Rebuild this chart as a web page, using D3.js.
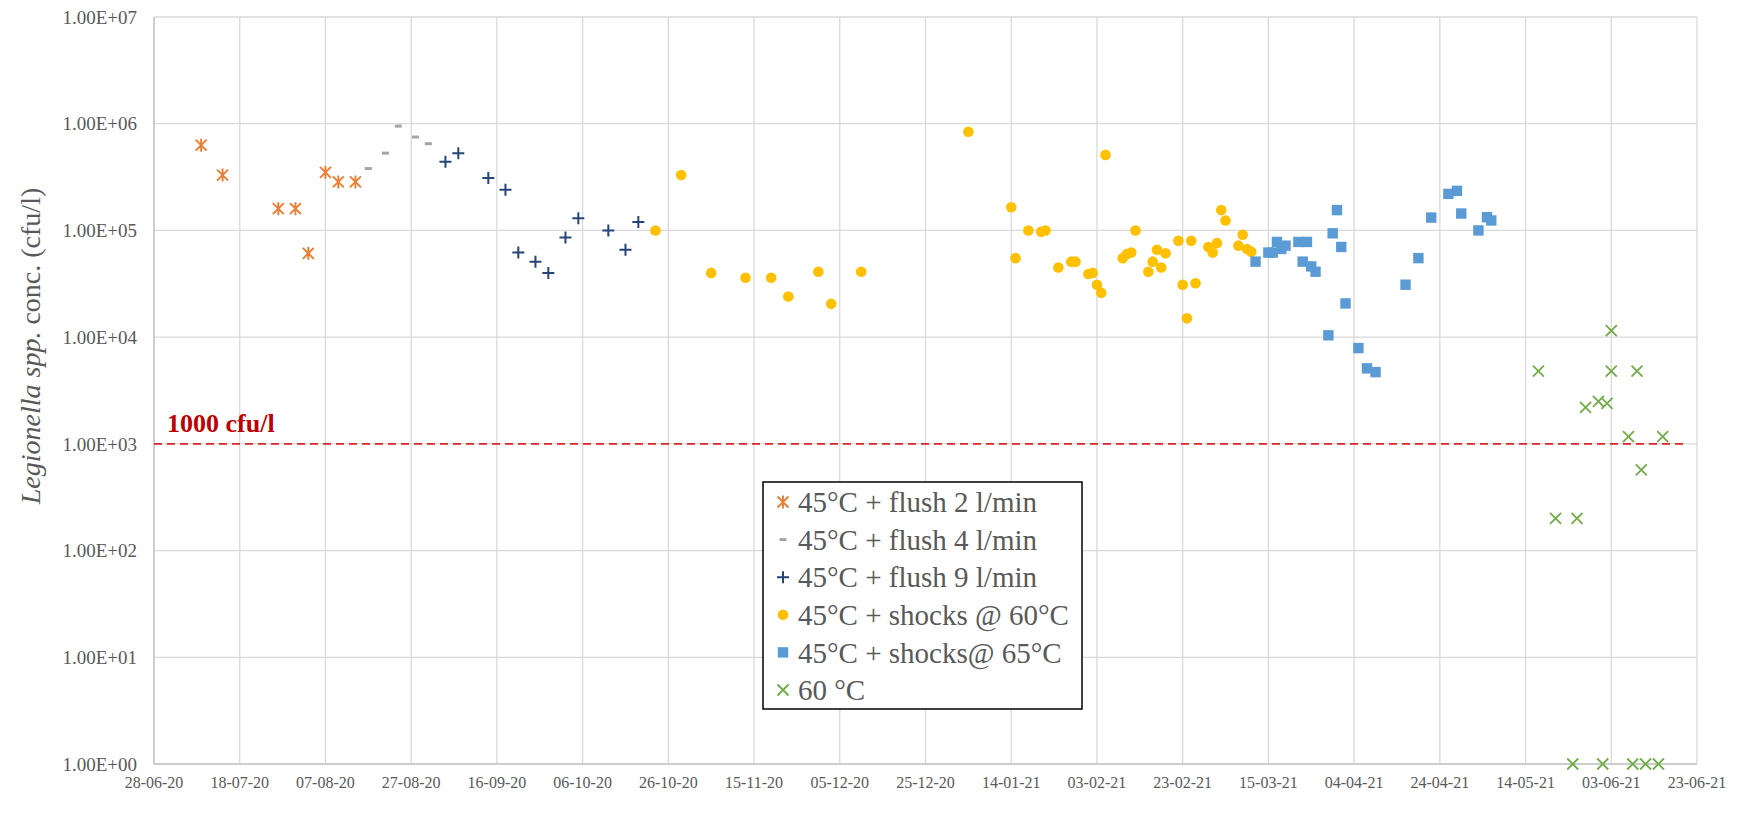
<!DOCTYPE html>
<html>
<head>
<meta charset="utf-8">
<script src="https://cdn.jsdelivr.net/npm/d3@7"></script>
<style>
body{margin:0;background:#fff}
svg{display:block}
text{font-family:"Liberation Serif","Times New Roman",serif}
</style>
</head>
<body>
<svg width="1762" height="815"></svg>
<script>
// series data (dd-mm-yy, cfu/l)
var flush2Dates = ["09-07-20","14-07-20","27-07-20","31-07-20","03-08-20","07-08-20","10-08-20","14-08-20"];
var flush2Vals  = [630000,330000,160000,160000,61000,350000,285000,285000];

var flush4Dates = ["17-08-20","21-08-20","24-08-20","28-08-20","31-08-20"];
var flush4Vals  = [380000,530000,950000,750000,650000];

var flush9Dates = ["04-09-20","07-09-20","14-09-20","18-09-20","21-09-20","25-09-20","28-09-20","02-10-20","05-10-20","12-10-20","16-10-20","19-10-20"];
var flush9Vals  = [440000,530000,310000,240000,62000,51000,40000,86000,130000,100000,66000,120000];

var shock60Dates = ["23-10-20","29-10-20","05-11-20","13-11-20","19-11-20","23-11-20","30-11-20","03-12-20","10-12-20",
  "04-01-21","14-01-21","15-01-21","18-01-21","21-01-21","22-01-21","25-01-21","28-01-21","29-01-21",
  "01-02-21","02-02-21","03-02-21","04-02-21","05-02-21","09-02-21","10-02-21","11-02-21","12-02-21",
  "15-02-21","16-02-21","17-02-21","18-02-21","19-02-21","22-02-21","23-02-21","24-02-21","25-02-21","26-02-21",
  "01-03-21","02-03-21","03-03-21","04-03-21","05-03-21","08-03-21","09-03-21","10-03-21","11-03-21"];
var shock60Vals  = [100000,330000,40000,36000,36000,24000,41000,20500,41000,
  840000,165000,55000,100000,97000,100000,45000,51000,51000,
  39000,40000,31000,26000,510000,55000,60000,62000,100000,
  41000,51000,66000,45000,61000,80000,31000,15000,80000,32000,
  70000,62000,76000,155000,124000,72000,91000,67000,63000];

var shock65Dates = ["12-03-21","15-03-21","16-03-21","17-03-21","18-03-21","19-03-21","22-03-21","23-03-21","24-03-21","25-03-21","26-03-21",
  "29-03-21","30-03-21","31-03-21","01-04-21","02-04-21","05-04-21","07-04-21","09-04-21",
  "16-04-21","19-04-21","22-04-21","26-04-21","28-04-21","29-04-21","03-05-21","05-05-21","06-05-21"];
var shock65Vals  = [51000,62000,62000,78000,67000,72000,78000,51000,78000,46000,41000,
  10400,94000,155000,70000,20700,7900,5100,4700,
  31000,55000,132000,220000,235000,144000,100000,133000,124000];

var t60Dates = ["17-05-21","21-05-21","25-05-21","26-05-21","28-05-21","31-05-21","01-06-21","02-06-21","03-06-21","03-06-21",
  "07-06-21","08-06-21","09-06-21","10-06-21","11-06-21","14-06-21","15-06-21"];
var t60Vals  = [4800,200,1,200,2200,2500,1,2400,4800,11500,1170,1,4800,570,1,1,1170];

var seriesNames = ["45°C + flush 2 l/min","45°C + flush 4 l/min","45°C + flush 9 l/min","45°C + shocks @ 60°C","45°C + shocks@ 65°C","60 °C"];

var xTickDays = d3.range(0, 361, 20);
var yTicks = [1,10,100,1000,10000,100000,1000000,10000000];
var yTickLabels = ["1.00E+00","1.00E+01","1.00E+02","1.00E+03","1.00E+04","1.00E+05","1.00E+06","1.00E+07"];
var thresholdValue = 1000, thresholdEnd = "20-06-21";

var parse = d3.timeParse("%d-%m-%y");
var start = parse("28-06-20"), end = parse("23-06-21");

var svg = d3.select("svg");
var serif = "'Liberation Serif','Times New Roman',serif";
var pLeft = 154, pRight = 1697, pTop = 17, pBottom = 764;

var x = d3.scaleTime().domain([start, end]).range([pLeft, pRight]);
var y = d3.scaleLog().domain([1, 1e7]).range([pBottom, pTop]);

// grid
var grid = svg.append("g");
grid.selectAll("line.h").data(yTicks).enter().append("line")
  .attr("x1", pLeft).attr("x2", pRight)
  .attr("y1", function(d){return y(d);}).attr("y2", function(d){return y(d);})
  .attr("stroke", "#d9d9d9").attr("stroke-width", 1.3);
var xTicks = xTickDays.map(function(d){return d3.timeDay.offset(start, d);});
grid.selectAll("line.v").data(xTicks).enter().append("line")
  .attr("x1", function(d){return x(d);}).attr("x2", function(d){return x(d);})
  .attr("y1", pTop).attr("y2", pBottom)
  .attr("stroke", "#d9d9d9").attr("stroke-width", 1.3);
svg.append("line").attr("x1", pLeft).attr("x2", pLeft).attr("y1", pTop).attr("y2", pBottom)
  .attr("stroke", "#c6c6c6").attr("stroke-width", 1.5);
svg.append("line").attr("x1", pLeft).attr("x2", pRight).attr("y1", pBottom).attr("y2", pBottom)
  .attr("stroke", "#c6c6c6").attr("stroke-width", 1.5);

// tick labels
var fmt = d3.timeFormat("%d-%m-%y");
svg.append("g").selectAll("text").data(xTicks).enter().append("text")
  .attr("x", function(d){return x(d);}).attr("y", 788)
  .attr("text-anchor", "middle").attr("font-family", serif).attr("font-size", 16).attr("fill", "#595959")
  .text(function(d){return fmt(d);});
svg.append("g").selectAll("text").data(yTicks).enter().append("text")
  .attr("x", 137).attr("y", function(d){return y(d);}).attr("dy", "0.35em")
  .attr("text-anchor", "end").attr("font-family", serif).attr("font-size", 19).attr("fill", "#595959")
  .text(function(d,i){return yTickLabels[i];});

// y title
var yt = svg.append("text").attr("transform", "translate(40,346) rotate(-90)")
  .attr("text-anchor", "middle").attr("font-family", serif).attr("font-size", 28).attr("fill", "#595959");
yt.append("tspan").attr("font-style", "italic").text("Legionella spp.");
yt.append("tspan").text(" conc. (cfu/l)");

// threshold
svg.append("line")
  .attr("x1", x(start)).attr("x2", x(parse(thresholdEnd)))
  .attr("y1", y(thresholdValue)).attr("y2", y(thresholdValue))
  .attr("stroke", "#d9262b").attr("stroke-width", 1.8).attr("stroke-dasharray", "8,5");
svg.append("text").attr("x", x(start) + 13).attr("y", y(thresholdValue) - 12)
  .attr("font-family", serif).attr("font-size", 26).attr("font-weight", "bold").attr("fill", "#c00000")
  .text(thresholdValue + " cfu/l");

// markers
var markers = [
  function(g){ g.append("path").attr("d","M0,-6.5V6.5M-5.5,-5.5L5.5,5.5M-5.5,5.5L5.5,-5.5").attr("stroke","#ed7d31").attr("stroke-width",1.9).attr("fill","none"); },
  function(g){ g.append("rect").attr("x",-3.5).attr("y",-1.5).attr("width",7).attr("height",3).attr("fill","#a5a5a5"); },
  function(g){ g.append("path").attr("d","M-6,0H6M0,-6V6").attr("stroke","#264478").attr("stroke-width",2).attr("fill","none"); },
  function(g){ g.append("circle").attr("r",5.3).attr("fill","#ffc000"); },
  function(g){ g.append("rect").attr("x",-5.2).attr("y",-5.2).attr("width",10.4).attr("height",10.4).attr("fill","#5b9bd5"); },
  function(g){ g.append("path").attr("d","M-5.5,-5.5L5.5,5.5M-5.5,5.5L5.5,-5.5").attr("stroke","#70ad47").attr("stroke-width",1.8).attr("fill","none"); }
];

var series = [
  [flush2Dates, flush2Vals], [flush4Dates, flush4Vals], [flush9Dates, flush9Vals],
  [shock60Dates, shock60Vals], [shock65Dates, shock65Vals], [t60Dates, t60Vals]
];

series.forEach(function(s, k){
  var pts = s[0].map(function(d,i){return {date: parse(d), v: s[1][i]};});
  svg.append("g").selectAll("g").data(pts).enter().append("g")
    .attr("transform", function(d){return "translate(" + x(d.date) + "," + y(d.v) + ")";})
    .each(function(){ markers[k](d3.select(this)); });
});

// legend
var lg = svg.append("g").attr("transform", "translate(763,482)");
lg.append("rect").attr("width", 319).attr("height", 227)
  .attr("fill", "#fff").attr("stroke", "#000").attr("stroke-width", 1.5);
seriesNames.forEach(function(name, i){
  var row = lg.append("g").attr("transform", "translate(20," + (20 + i * 37.6) + ")");
  markers[i](row);
  row.append("text").attr("x", 15).attr("dy", "0.35em")
    .attr("font-family", serif).attr("font-size", 29).attr("fill", "#595959").text(name);
});
</script>
</body>
</html>
